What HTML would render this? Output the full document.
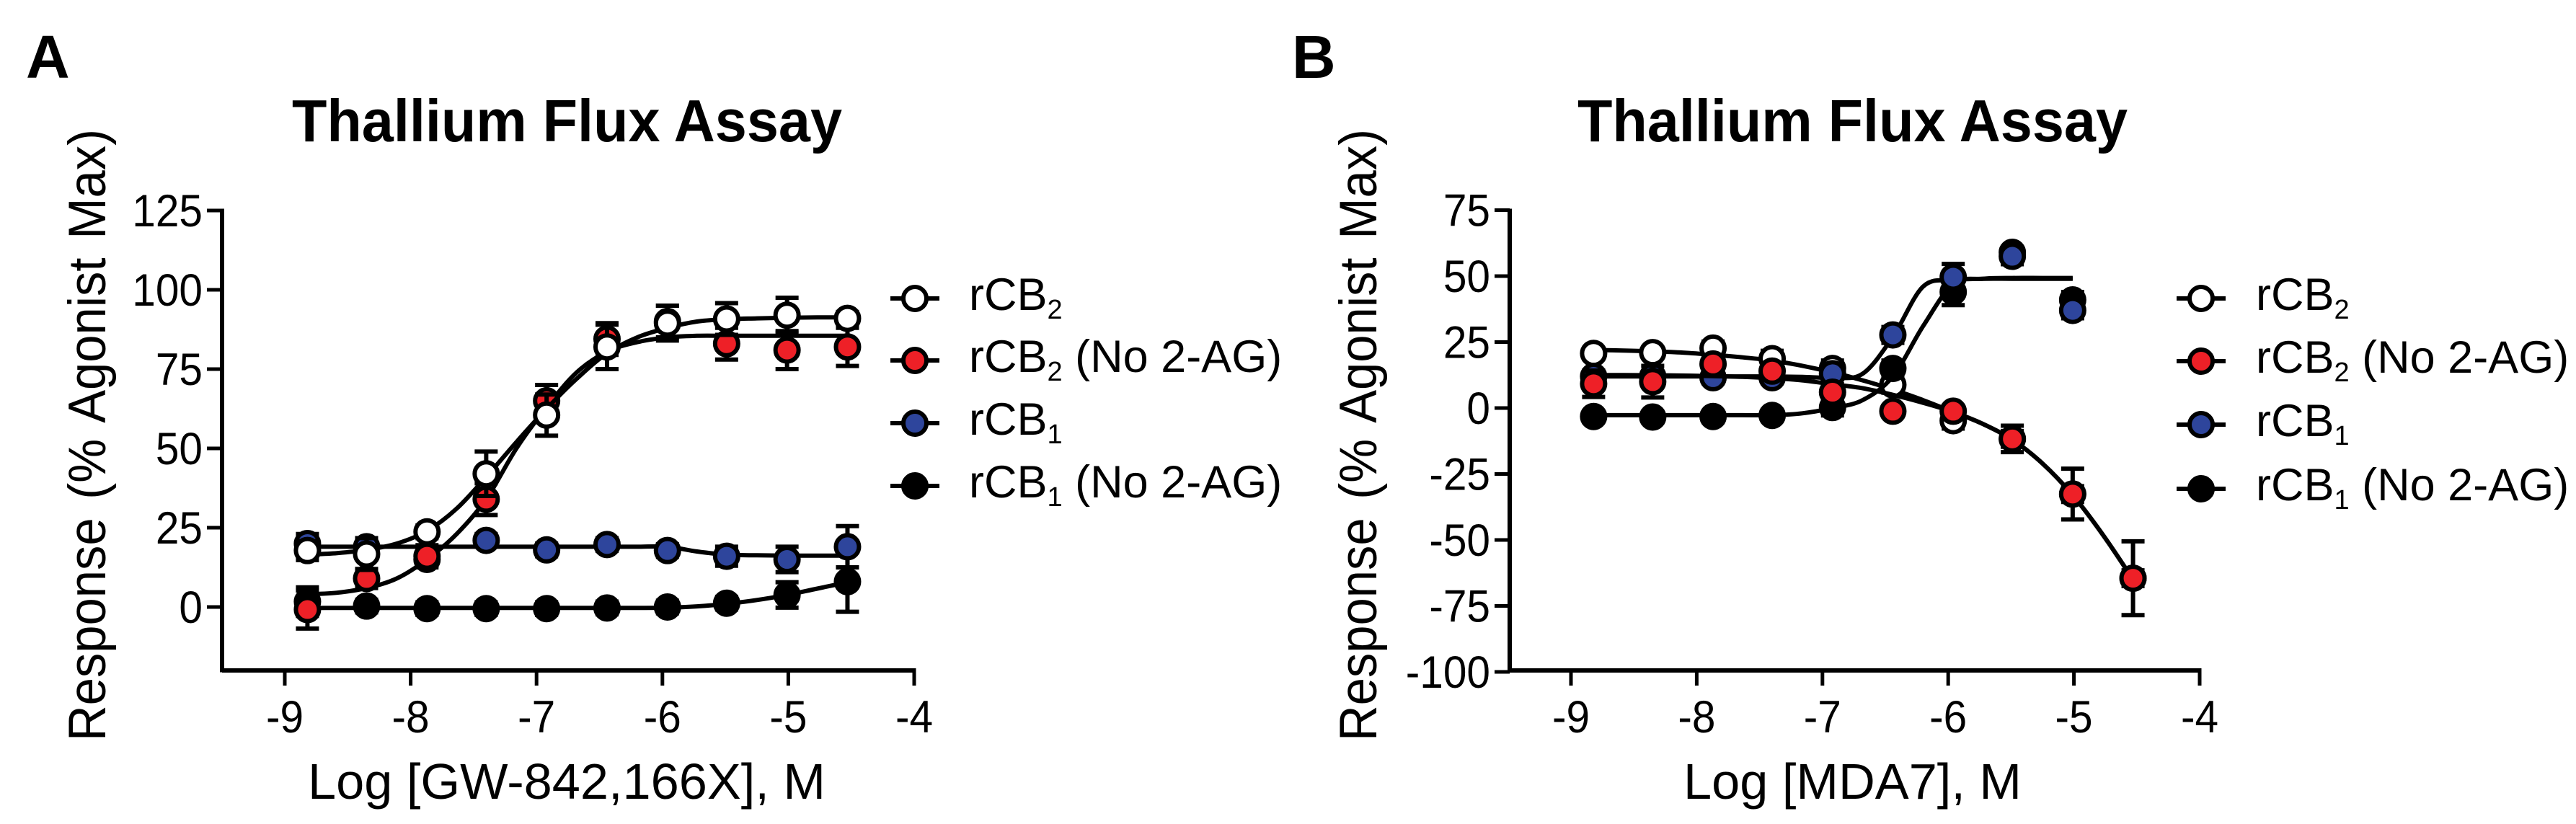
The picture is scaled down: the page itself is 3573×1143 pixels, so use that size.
<!DOCTYPE html>
<html lang="en">
<head>
<meta charset="utf-8">
<title>Thallium Flux Assay</title>
<style>
html,body{margin:0;padding:0;background:#fff;width:3573px;height:1143px;overflow:hidden}
svg{display:block}
text{font-family:"Liberation Sans",Arial,sans-serif;fill:#000}
</style>
</head>
<body>
<svg id="figure" xmlns="http://www.w3.org/2000/svg" width="3573" height="1143" viewBox="0 0 3573 1143">
  <rect width="3573" height="1143" fill="#fff"/>

  <text x="36" y="108" font-size="84" font-weight="700">A</text>
  <text x="1792" y="108" font-size="84" font-weight="700">B</text>

  <text x="405" y="196" font-size="83" font-weight="700" textLength="763" lengthAdjust="spacingAndGlyphs">Thallium Flux Assay</text>
  <text x="2188" y="196" font-size="83" font-weight="700" textLength="763" lengthAdjust="spacingAndGlyphs">Thallium Flux Assay</text>

  <text transform="translate(146,1028) rotate(-90)" font-size="73" word-spacing="7" textLength="849" lengthAdjust="spacingAndGlyphs">Response (% Agonist Max)</text>
  <text transform="translate(1909,1028) rotate(-90)" font-size="73" word-spacing="7" textLength="849" lengthAdjust="spacingAndGlyphs">Response (% Agonist Max)</text>

  <text x="427" y="1108" font-size="70" textLength="718" lengthAdjust="spacingAndGlyphs">Log [GW-842,166X], M</text>
  <text x="2335" y="1108" font-size="70" textLength="469" lengthAdjust="spacingAndGlyphs">Log [MDA7], M</text>

  <g id="panel-a"></g>
  <g id="panel-b"></g>

  <g>
    <g>
      <line x1="1235" x2="1303" y1="414" y2="414" stroke="#000" stroke-width="6"/>
      <circle cx="1269" cy="414" r="16" fill="#fff" stroke="#000" stroke-width="6"/>
      <text x="1344" y="430" font-size="63">rCB<tspan font-size="38" dy="12">2</tspan></text>
    </g>
    <g>
      <line x1="1235" x2="1303" y1="500" y2="500" stroke="#000" stroke-width="6"/>
      <circle cx="1269" cy="500" r="16" fill="#ee2027" stroke="#000" stroke-width="6"/>
      <text x="1344" y="516" font-size="63">rCB<tspan font-size="38" dy="12">2</tspan><tspan dy="-12"> (No 2-AG)</tspan></text>
    </g>
    <g>
      <line x1="1235" x2="1303" y1="587" y2="587" stroke="#000" stroke-width="6"/>
      <circle cx="1269" cy="587" r="16" fill="#2e459c" stroke="#000" stroke-width="6"/>
      <text x="1344" y="603" font-size="63">rCB<tspan font-size="38" dy="12">1</tspan></text>
    </g>
    <g>
      <line x1="1235" x2="1303" y1="674" y2="674" stroke="#000" stroke-width="6"/>
      <circle cx="1269" cy="674" r="16" fill="#000" stroke="#000" stroke-width="6"/>
      <text x="1344" y="690" font-size="63">rCB<tspan font-size="38" dy="12">1</tspan><tspan dy="-12"> (No 2-AG)</tspan></text>
    </g>
  </g>

  <g>
    <g>
      <line x1="3019" x2="3087" y1="414" y2="414" stroke="#000" stroke-width="6"/>
      <circle cx="3053" cy="414" r="16" fill="#fff" stroke="#000" stroke-width="6"/>
      <text x="3129" y="430" font-size="63">rCB<tspan font-size="38" dy="12">2</tspan></text>
    </g>
    <g>
      <line x1="3019" x2="3087" y1="501" y2="501" stroke="#000" stroke-width="6"/>
      <circle cx="3053" cy="501" r="16" fill="#ee2027" stroke="#000" stroke-width="6"/>
      <text x="3129" y="517" font-size="63">rCB<tspan font-size="38" dy="12">2</tspan><tspan dy="-12"> (No 2-AG)</tspan></text>
    </g>
    <g>
      <line x1="3019" x2="3087" y1="589" y2="589" stroke="#000" stroke-width="6"/>
      <circle cx="3053" cy="589" r="16" fill="#2e459c" stroke="#000" stroke-width="6"/>
      <text x="3129" y="605" font-size="63">rCB<tspan font-size="38" dy="12">1</tspan></text>
    </g>
    <g>
      <line x1="3019" x2="3087" y1="678" y2="678" stroke="#000" stroke-width="6"/>
      <circle cx="3053" cy="678" r="16" fill="#000" stroke="#000" stroke-width="6"/>
      <text x="3129" y="694" font-size="63">rCB<tspan font-size="38" dy="12">1</tspan><tspan dy="-12"> (No 2-AG)</tspan></text>
    </g>
  </g>
</svg>

<script>
// Shared concentrations (log M) and fit-line sampling positions
const doses = [-8.82, -8.35, -7.87, -7.40, -6.92, -6.44, -5.96, -5.49, -5.01, -4.53];
const fitDoses = [-8.82, -8.585, -8.35, -8.11, -7.87, -7.635, -7.40, -7.16, -6.92, -6.68, -6.44, -6.20, -5.96, -5.725, -5.49, -5.25, -5.01, -4.77, -4.53];
const xTicks = [-9, -8, -7, -6, -5, -4];

// Panel A values
const aYTicks = [0, 25, 50, 75, 100, 125];
const aRcb2 = [17.8, 16.7, 23.7, 42, 60.5, 82, 89.5, 90.8, 92, 91];
const aRcb2Err = [3, 5, 2, 7, 6.5, 7, 5.5, 5, 5.5, 2];
const aRcb2Fit = [16.5, 17, 18, 20, 24, 31, 41, 52, 62.5, 72, 80, 85, 88, 90, 90.7, 91, 91.2, 91.3, 91.3];
const aRedNo2ag = [-0.8, 9, 16, 34, 65, 84.5, 90, 83, 81, 82];
const aRedNo2agErr = [6, 3, 3.5, 5, 5, 5, 5, 5, 6, 6];
const aRedNo2agFit = [4, 4.5, 6, 9, 15, 23, 34, 50, 63, 74, 80.5, 83.5, 85, 85.5, 85.5, 85.5, 85.5, 85.5, 85.5];
const aRcb1 = [20, 19, 15, 21, 18, 19.7, 17.8, 16, 15, 19];
const aRcb1Err = [3, 2, 2, 2, 2, 2, 2, 3, 4, 6.5];
const aRcb1Fit = [19, 19, 19, 19, 19, 19, 19, 19, 19, 19, 19, 19, 19, 17.5, 16.5, 16.3, 16.2, 16.2, 16.2];
const aBlackNo2ag = [1.7, 0.3, -0.5, -0.5, -0.5, -0.3, 0, 1.2, 3.8, 8];
const aBlackNo2agErr = [4.5, 2, 2, 2, 2, 2, 2, 2, 4, 9.5];
const aBlackNo2agFit = [-0.3, -0.3, -0.3, -0.3, -0.3, -0.3, -0.3, -0.3, -0.3, -0.3, -0.3, -0.3, -0.2, 0.2, 1, 2.2, 3.8, 5.8, 7.8];

// Panel B values
const bYTicks = [-100, -75, -50, -25, 0, 25, 50, 75];
const bRcb2 = [20.7, 21, 22.7, 18.7, 15, 8.8, -4.8, -11.7, -32.6, -64.5];
const bRcb2Err = [2, 2, 2.5, 3, 3, 3, 3, 3, 3, 3];
const bRcb2Fit = [22, 21.8, 21.5, 21, 20.2, 19.2, 18, 16, 13.5, 10.5, 7, 3, -1.5, -6, -12, -21, -33, -48, -65];
const bRedNo2ag = [9.2, 10, 16.7, 14, 6, -1.2, -1.2, -11.7, -32.6, -64.5];
const bRedNo2agErr = [5, 6, 3, 3, 3, 2, 2, 5, 9.6, 14];
const bRedNo2agFit = [12.5, 12.5, 12.4, 12.3, 12.1, 11.8, 11.3, 10.5, 9, 7.5, 5, 2, -1.5, -6, -12, -21, -33, -48, -65];
const bRcb1 = [12, 12, 11.5, 11.5, 13, 27.7, 49.6, 57.5, 37];
const bRcb1Err = [2, 2, 2, 2, 2, 3, 5, 3, 3];
const bRcb1Fit = [12, 12, 12, 12, 12, 12, 12, 11.8, 11.5, 13, 27, 46, 48.5, 49, 49, 49, 49];
const bBlackNo2ag = [-3.2, -3.4, -3.2, -2.8, 0.2, 15, 44, 59, 41];
const bBlackNo2agErr = [2, 2, 2, 2, 3, 3, 5, 2, 3];
const bBlackNo2agFit = [-2.7, -2.7, -2.7, -2.7, -2.7, -2.7, -2.7, -2, 0, 3, 12, 31, 47, 49, 49.3, 49.3, 49.3];

const SVGNS = 'http://www.w3.org/2000/svg';
function make(tag, attrs, parent) {
  const node = document.createElementNS(SVGNS, tag);
  for (const k in attrs) node.setAttribute(k, attrs[k]);
  parent.appendChild(node);
  return node;
}

function smoothPath(pts) {
  let d = 'M' + pts[0][0] + ' ' + pts[0][1];
  for (let i = 0; i < pts.length - 1; i++) {
    const p0 = pts[Math.max(i - 1, 0)], p1 = pts[i], p2 = pts[i + 1], p3 = pts[Math.min(i + 2, pts.length - 1)];
    d += 'C' + (p1[0] + (p2[0] - p0[0]) / 6).toFixed(1) + ' ' + (p1[1] + (p2[1] - p0[1]) / 6).toFixed(1) + ' ' +
      (p2[0] - (p3[0] - p1[0]) / 6).toFixed(1) + ' ' + (p2[1] - (p3[1] - p1[1]) / 6).toFixed(1) + ' ' +
      p2[0].toFixed(1) + ' ' + p2[1].toFixed(1);
  }
  return d;
}

function drawPanel(cfg) {
  const root = document.getElementById(cfg.id);
  const xScale = v => cfg.x0 + (v - xTicks[0]) * cfg.xUnit;
  const yScale = v => cfg.yZero - v * cfg.yUnit;

  const yAxis = make('line', {x1: cfg.axisX, x2: cfg.axisX, y1: cfg.yTop - 2.5, y2: cfg.axisY + 2.5, stroke: '#000', 'stroke-width': 6}, root);
  
  
  const xAxis = make('line', {x1: cfg.axisX, x2: xScale(xTicks[xTicks.length - 1]) + 2.5, y1: cfg.axisY, y2: cfg.axisY, stroke: '#000', 'stroke-width': 6}, root);
  
  

  cfg.yTicks.forEach(t => {
    const tick = make('line', {x1: cfg.axisX - 21, x2: cfg.axisX, y1: yScale(t), y2: yScale(t), stroke: '#000', 'stroke-width': 5}, root);
    
    
    const label = make('text', {transform: 'translate(' + (cfg.axisX - 27) + ',' + (yScale(t) + 22) + ') scale(0.93,1)', 'font-size': 63, 'text-anchor': 'end'}, root);
    label.textContent = String(t);
    
    
  });
  xTicks.forEach(t => {
    const tick = make('line', {x1: xScale(t), x2: xScale(t), y1: cfg.axisY, y2: cfg.axisY + 21, stroke: '#000', 'stroke-width': 5}, root);
    
    
    const label = make('text', {transform: 'translate(' + xScale(t) + ',1016) scale(0.93,1)', 'font-size': 63, 'text-anchor': 'middle'}, root);
    label.textContent = String(t);
    
    
  });

  cfg.series.forEach(s => {
    const group = make('g', {}, root);
    
    

    const pts = s.fit.map((v, i) => [xScale(fitDoses[i]), yScale(v)]);
    const fitLine = make('path', {d: smoothPath(pts), fill: 'none', stroke: '#000', 'stroke-width': 6}, group);
    
    

    s.values.forEach((v, i) => {
      const x = xScale(doses[i]);
      const e = s.err[i];
      const whisker = make('path', {
        d: 'M' + x + ' ' + yScale(v + e) + 'V' + yScale(v - e) +
           'M' + (x - 16) + ' ' + yScale(v + e) + 'H' + (x + 16) +
           'M' + (x - 16) + ' ' + yScale(v - e) + 'H' + (x + 16),
        fill: 'none', stroke: '#000', 'stroke-width': 6}, group);
      
      
    });
    s.values.forEach((v, i) => {
      const dot = make('circle', {cx: xScale(doses[i]), cy: yScale(v), r: 16, fill: s.color, stroke: '#000', 'stroke-width': 6}, group);
      
      
    });
  });
}

drawPanel({
  id: 'panel-a', x0: 395, xUnit: 174.6, axisX: 308, axisY: 930, yZero: 842, yUnit: 4.4, yTop: 292, yTicks: aYTicks,
  series: [
    {name: 'rcb1-no-2ag', color: '#000', values: aBlackNo2ag, err: aBlackNo2agErr, fit: aBlackNo2agFit},
    {name: 'rcb1', color: '#2e459c', values: aRcb1, err: aRcb1Err, fit: aRcb1Fit},
    {name: 'rcb2-no-2ag', color: '#ee2027', values: aRedNo2ag, err: aRedNo2agErr, fit: aRedNo2agFit},
    {name: 'rcb2', color: '#fff', values: aRcb2, err: aRcb2Err, fit: aRcb2Fit}
  ]
});
drawPanel({
  id: 'panel-b', x0: 2179, xUnit: 174.4, axisX: 2094, axisY: 930, yZero: 566, yUnit: 3.66, yTop: 292, yTicks: bYTicks,
  series: [
    {name: 'rcb2', color: '#fff', values: bRcb2, err: bRcb2Err, fit: bRcb2Fit},
    {name: 'rcb1-no-2ag', color: '#000', values: bBlackNo2ag, err: bBlackNo2agErr, fit: bBlackNo2agFit},
    {name: 'rcb1', color: '#2e459c', values: bRcb1, err: bRcb1Err, fit: bRcb1Fit},
    {name: 'rcb2-no-2ag', color: '#ee2027', values: bRedNo2ag, err: bRedNo2agErr, fit: bRedNo2agFit}
  ]
});
</script>
</body>
</html>
